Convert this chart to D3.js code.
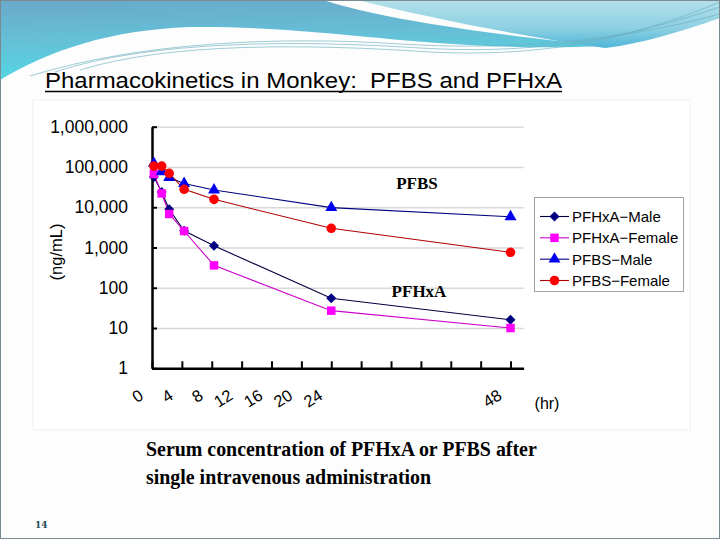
<!DOCTYPE html>
<html>
<head>
<meta charset="utf-8">
<script src="https://cdn.jsdelivr.net/npm/d3@7"></script>
<style>
  html, body { margin: 0; padding: 0; background: #ffffff; }
  svg { display: block; }
  text { white-space: pre; }
</style>
</head>
<body>
<svg id="chart" width="720" height="540"></svg>
<script>
// ---------- data ----------
const times        = [0.25, 1.3, 2.3, 4.3, 8.3, 24, 48];          // hr
const pfhxaMale    = [56000, 24000, 8900, 2600, 1100, 55, 16];     // ng/mL
const pfhxaFemale  = [67000, 22000, 6800, 2570, 360, 27, 10];
const pfbsMale     = [123000, 76000, 55000, 39000, 26800, 9800, 5800];
const pfbsFemale   = [105000, 105000, 69500, 27900, 15700, 3000, 760];
const seriesNames  = ["PFHxA\u2212Male", "PFHxA\u2212Female", "PFBS\u2212Male", "PFBS\u2212Female"];
const xTicks       = [0, 4, 8, 12, 16, 20, 24, 28, 32, 36, 40, 44, 48];
const xLabels      = [0, 4, 8, 12, 16, 20, 24, 48];
const yTicks       = [1, 10, 100, 1000, 10000, 100000, 1000000];
const titleText    = "Pharmacokinetics in Monkey:  PFBS and PFHxA";
const captionLines = ["Serum concentration of PFHxA or PFBS after", "single intravenous administration"];

const series = [
  { name: seriesNames[0], values: pfhxaMale,   line: "#000040", fill: "#000080", shape: "diamond" },
  { name: seriesNames[1], values: pfhxaFemale, line: "#cc00cc", fill: "#ff00ff", shape: "square" },
  { name: seriesNames[2], values: pfbsMale,    line: "#000080", fill: "#0000ee", shape: "triangle" },
  { name: seriesNames[3], values: pfbsFemale,  line: "#b00000", fill: "#ff0000", shape: "circle" }
];

const svg = d3.select("#chart");
const defs = svg.append("defs");

// ---------- slide background & decoration ----------
svg.append("rect").attr("width", 720).attr("height", 540).attr("fill", "#fdfdfd");

const gA = defs.append("linearGradient").attr("id", "gA").attr("x1", 0).attr("y1", 0).attr("x2", 0.15).attr("y2", 1);
gA.append("stop").attr("offset", "0%").attr("stop-color", "#6aa9c9");
gA.append("stop").attr("offset", "55%").attr("stop-color", "#64c2d8");
gA.append("stop").attr("offset", "100%").attr("stop-color", "#52d6e4");
const gB = defs.append("linearGradient").attr("id", "gB").attr("x1", 0).attr("y1", 0).attr("x2", 0).attr("y2", 1);
gB.append("stop").attr("offset", "0%").attr("stop-color", "#b4e0ea");
gB.append("stop").attr("offset", "60%").attr("stop-color", "#8ccfe2");
gB.append("stop").attr("offset", "100%").attr("stop-color", "#4eb6d6");

svg.append("path").attr("fill", "url(#gA)")
  .attr("d", "M0,0 L323,0 C380,18 470,32 605,46 C520,50 440,44 380,38 C320,32 250,26 190,27 C110,30 50,50 0,80 Z");
svg.append("path").attr("fill", "url(#gB)")
  .attr("d", "M357,0 L720,0 L720,18 C680,32 640,44 605,48 C520,36 430,18 357,0 Z");
const swoosh = [
  "M30,76 C140,42 280,36 400,44 C500,50 610,44 720,14",
  "M55,72 C150,40 300,40 420,48 C520,54 610,44 720,7",
  "M80,70 C170,42 310,44 430,52 C530,57 620,44 720,2"
];
svg.selectAll("path.swoosh").data(swoosh).join("path").attr("class", "swoosh")
  .attr("d", d => d).attr("fill", "none").attr("stroke", "#6aaebe").attr("stroke-width", 0.8).attr("opacity", 0.8);

// slide border
svg.append("rect").attr("x", 0.5).attr("y", 0.5).attr("width", 719).attr("height", 538)
  .attr("fill", "none").attr("stroke", "#7a8a90").attr("stroke-width", 1);

// ---------- title ----------
const title = svg.append("text").attr("x", 45).attr("y", 87.5)
  .attr("font-family", "Liberation Sans, Arial, sans-serif").attr("font-size", 22.5)
  .attr("textLength", 517).attr("lengthAdjust", "spacingAndGlyphs")
  .attr("fill", "#000").text(titleText);
svg.append("line").attr("x1", 45).attr("x2", 45 + 517).attr("y1", 91.5).attr("y2", 91.5)
  .attr("stroke", "#000").attr("stroke-width", 1.3);

// ---------- chart panel ----------
svg.append("rect").attr("x", 33).attr("y", 100).attr("width", 657).attr("height", 330)
  .attr("fill", "#ffffff").attr("stroke", "#f0f0f0");

const x = d3.scaleLinear().domain([0, 49.75]).range([152, 523.6]);
const y = d3.scaleLog().domain([1, 1e6]).range([368.3, 126.7]);

// grid
const grid = svg.append("g").attr("transform", `translate(${x(0)},0)`)
  .call(d3.axisLeft(y).tickValues(yTicks.slice(1)).tickSize(-(x.range()[1] - x.range()[0])).tickFormat(""));
grid.select(".domain").remove();
grid.selectAll(".tick line").attr("stroke", "#d9d9d9").attr("stroke-width", 1.5);

// y axis
const yAxis = svg.append("g").attr("transform", `translate(${x(0)},0)`)
  .call(d3.axisLeft(y).tickValues(yTicks).tickSize(-5).tickSizeOuter(0).tickPadding(24).tickFormat(d3.format(",")));
yAxis.select(".domain").attr("stroke", "#000").attr("stroke-width", 2.5);
yAxis.selectAll(".tick line").attr("stroke", "#000").attr("stroke-width", 2);
yAxis.selectAll(".tick text").attr("font-family", "Liberation Sans, Arial, sans-serif")
  .attr("font-size", 17.5).attr("fill", "#000");

// x axis
const xAxis = svg.append("g").attr("transform", `translate(0,${y(1)})`)
  .call(d3.axisBottom(x).tickValues(xTicks).tickSize(-7).tickSizeOuter(0)
    .tickFormat(d => xLabels.includes(d) ? String(d) : ""));
xAxis.select(".domain").attr("stroke", "#000").attr("stroke-width", 2.5);
xAxis.selectAll(".tick line").attr("stroke", "#000").attr("stroke-width", 2);
xAxis.selectAll(".tick text")
  .attr("font-family", "Liberation Sans, Arial, sans-serif").attr("font-size", 16.5).attr("fill", "#000")
  .attr("text-anchor", "end").attr("dy", null).attr("y", null)
  .attr("transform", "translate(-8,30) rotate(-32)");

// axis titles
svg.append("text").attr("x", 547).attr("y", 409).attr("text-anchor", "middle")
  .attr("font-family", "Liberation Sans, Arial, sans-serif").attr("font-size", 16).text("(hr)");
svg.append("text").attr("transform", "translate(62,252) rotate(-90)").attr("text-anchor", "middle")
  .attr("font-family", "Liberation Sans, Arial, sans-serif").attr("font-size", 16.5).text("(ng/mL)");

// ---------- series ----------
const line = d3.line().x((d, i) => x(times[i])).y(d => y(d));
const symType = { diamond: d3.symbolSquare, square: d3.symbolSquare, triangle: d3.symbolTriangle, circle: d3.symbolCircle };
const symSize = { diamond: 50, square: 72, triangle: 62, circle: 72 };
const symRot  = { diamond: 45, square: 0, triangle: 0, circle: 0 };

series.forEach(s => {
  svg.append("path").attr("d", line(s.values)).attr("fill", "none")
    .attr("stroke", s.line).attr("stroke-width", 1.1);
});
series.forEach(s => {
  svg.append("g").selectAll("path").data(s.values).join("path")
    .attr("transform", (d, i) => `translate(${x(times[i])},${y(d)}) rotate(${symRot[s.shape]})`)
    .attr("d", d3.symbol().type(symType[s.shape]).size(symSize[s.shape]))
    .attr("fill", s.fill);
});

// in-plot labels
svg.append("text").attr("x", 417).attr("y", 189).attr("text-anchor", "middle")
  .attr("font-family", "Liberation Serif, Times New Roman, serif").attr("font-weight", "bold")
  .attr("font-size", 17).text("PFBS");
svg.append("text").attr("x", 419).attr("y", 297).attr("text-anchor", "middle")
  .attr("font-family", "Liberation Serif, Times New Roman, serif").attr("font-weight", "bold")
  .attr("font-size", 17).text("PFHxA");

// ---------- legend ----------
const lg = svg.append("g");
lg.append("rect").attr("x", 534.5).attr("y", 197.5).attr("width", 149).attr("height", 94)
  .attr("fill", "#fff").attr("stroke", "#a0a0a0");
const ly = d3.scalePoint().domain(seriesNames).range([216.5, 280.5]);
series.forEach(s => {
  const yy = ly(s.name);
  lg.append("line").attr("x1", 540).attr("x2", 569).attr("y1", yy).attr("y2", yy)
    .attr("stroke", s.line).attr("stroke-width", 1.1);
  lg.append("path").attr("transform", `translate(554.5,${yy}) rotate(${symRot[s.shape]})`)
    .attr("d", d3.symbol().type(symType[s.shape]).size(symSize[s.shape]))
    .attr("fill", s.fill);
  lg.append("text").attr("x", 572).attr("y", yy).attr("dy", "0.36em")
    .attr("font-family", "Liberation Sans, Arial, sans-serif").attr("font-size", 15)
    .attr("fill", "#000").text(s.name);
});

// ---------- caption ----------
svg.selectAll("text.caption").data(captionLines).join("text").attr("class", "caption")
  .attr("x", 146).attr("y", (d, i) => 456 + i * 27.5)
  .attr("font-family", "Liberation Serif, Times New Roman, serif").attr("font-weight", "bold")
  .attr("font-size", 19.9).attr("fill", "#000").text(d => d);

// page number
svg.append("text").attr("x", 35).attr("y", 528)
  .attr("font-family", "DejaVu Serif, Georgia, serif").attr("font-weight", "bold")
  .attr("font-size", 9).attr("fill", "#1d4b58").text("14");
</script>
</body>
</html>
